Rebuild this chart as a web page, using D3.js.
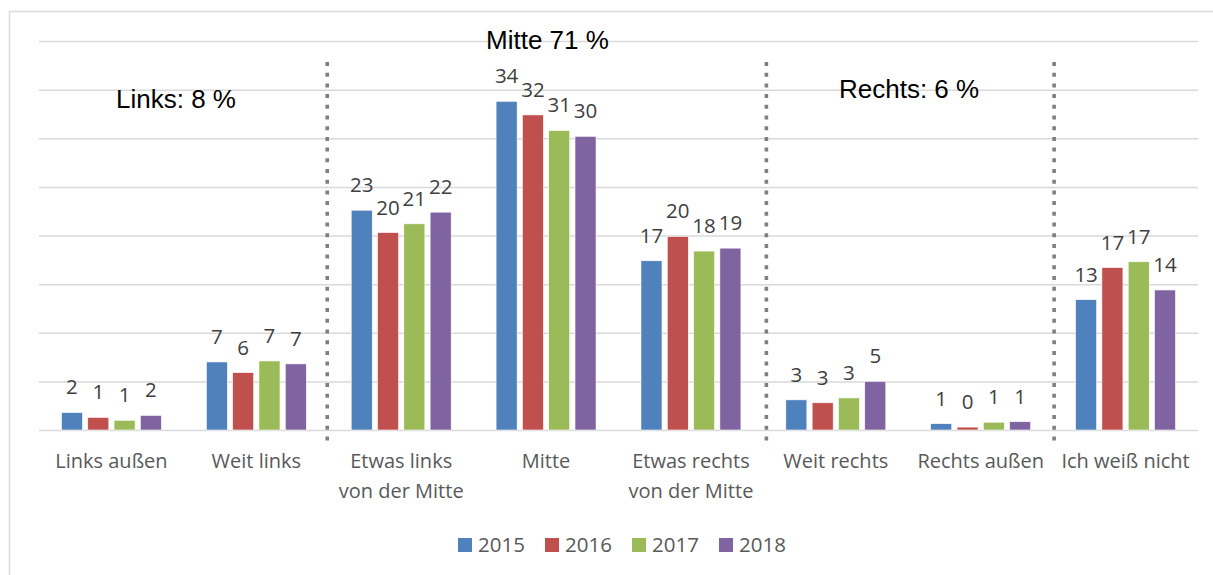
<!DOCTYPE html>
<html>
<head>
<meta charset="utf-8">
<script src="https://cdn.jsdelivr.net/npm/d3@7"></script>
<style>
  html, body { margin: 0; padding: 0; background: #fff; }
  svg { display: block; }
</style>
</head>
<body>
<svg id="chart" width="1213" height="575"></svg>
<script>
const categories = ["Links außen", "Weit links", "Etwas links von der Mitte", "Mitte",
  "Etwas rechts von der Mitte", "Weit rechts", "Rechts außen", "Ich weiß nicht"];
const years = ["2015", "2016", "2017", "2018"];
const v2015 = [1.8, 7.0, 22.6, 33.8, 17.4, 3.1, 0.65, 13.4];
const v2016 = [1.3, 5.9, 20.3, 32.4, 19.9, 2.8, 0.3, 16.7];
const v2017 = [1.0, 7.1, 21.2, 30.8, 18.4, 3.3, 0.8, 17.3];
const v2018 = [1.5, 6.8, 22.4, 30.2, 18.7, 5.0, 0.85, 14.4];
const yTicks = [0, 5, 10, 15, 20, 25, 30, 35, 40];
const colors = ["#4F81BD", "#C0504D", "#9BBB59", "#8064A2"];
const groupLabels = [
  { text: "Links: 8 %", x: 116, y: 108 },
  { text: "Mitte 71 %", x: 486, y: 49 },
  { text: "Rechts: 6 %", x: 839, y: 98 }
];
const dividerAfter = [1, 4, 6]; // divider after these category indexes

const series = [v2015, v2016, v2017, v2018];
const svg = d3.select("#chart");

// outer border
svg.append("rect").attr("x", 9.5).attr("y", 11.5).attr("width", 1220).attr("height", 600)
  .attr("fill", "#fff").attr("stroke", "#d9d9d9").attr("stroke-width", 1.5);

const plotL = 39, plotR = 1198, plotT = 41, plotB = 430;
const x0 = d3.scaleBand().domain(categories).range([plotL, plotR]).padding(0);
const groupW = x0.bandwidth() * 0.69;
const x1 = d3.scaleBand().domain(years).range([0, groupW]).paddingInner(0.2);
const y = d3.scaleLinear().domain([0, 40]).range([plotB, plotT]);

// gridlines
const yAxis = d3.axisLeft(y).tickValues(yTicks).tickSize(-(plotR - plotL)).tickFormat("");
const gAx = svg.append("g").attr("transform", `translate(${plotL},0)`).call(yAxis);
gAx.select(".domain").remove();
gAx.selectAll(".tick line").attr("stroke", "#d9d9d9").attr("stroke-width", 1.5);

// dividers
const defs = svg.append("defs");
const f = defs.append("filter").attr("id", "blur").attr("x", "-5").attr("y", "-1").attr("width", "11").attr("height", "3");
f.append("feGaussianBlur").attr("stdDeviation", 3);
dividerAfter.forEach(i => {
  const xx = x0(categories[i]) + x0.bandwidth() + (i === 4 ? 3 : (i === 1 ? -1.5 : 1));
  svg.append("line").attr("x1", xx).attr("x2", xx).attr("y1", 64).attr("y2", 442)
    .attr("stroke", "#999").attr("stroke-width", 7).attr("opacity", 0.45).attr("filter", "url(#blur)");
  svg.append("line").attr("x1", xx).attr("x2", xx).attr("y1", 62).attr("y2", 443)
    .attr("stroke", "#7f7f7f").attr("stroke-width", 3.6).attr("stroke-dasharray", "4,6.7");
});

// bars
const groups = svg.append("g").selectAll("g").data(categories).join("g")
  .attr("transform", d => `translate(${x0(d) + (x0.bandwidth() - groupW) / 2},0)`);

groups.each(function (cat, ci) {
  const g = d3.select(this);
  years.forEach((yr, si) => {
    const v = series[si][ci];
    g.append("rect")
      .attr("x", x1(yr)).attr("width", x1.bandwidth())
      .attr("y", y(v)).attr("height", y(0) - y(v))
      .attr("fill", colors[si]).attr("stroke", "#fff").attr("stroke-width", 0.6);
    g.append("text")
      .attr("x", x1(yr) + x1.bandwidth() / 2).attr("y", y(v) - 18)
      .attr("text-anchor", "middle")
      .attr("font-family", "'Open Sans', sans-serif").attr("font-size", 20.5)
      .attr("fill", "#404040")
      .text(Math.round(v));
  });
});

// category labels with wrapping
const catG = svg.append("g");
categories.forEach(cat => {
  const t = catG.append("text")
    .attr("x", x0(cat) + x0.bandwidth() / 2).attr("y", 468)
    .attr("text-anchor", "middle")
    .attr("font-family", "'Open Sans', sans-serif").attr("font-size", 20)
    .attr("fill", "#595959");
  const words = cat.split(" ");
  let line = [];
  let tspan = t.append("tspan").attr("x", x0(cat) + x0.bandwidth() / 2).attr("dy", 0);
  words.forEach(w => {
    line.push(w);
    tspan.text(line.join(" "));
    if (tspan.node().getComputedTextLength() > 138 && line.length > 1) {
      line.pop();
      tspan.text(line.join(" "));
      line = [w];
      tspan = t.append("tspan").attr("x", x0(cat) + x0.bandwidth() / 2).attr("dy", 29.5).text(w);
    }
  });
});

// group annotations
groupLabels.forEach(a => {
  svg.append("text").attr("x", a.x).attr("y", a.y)
    .attr("font-family", "'Liberation Sans', Arial, sans-serif").attr("font-size", 26)
    .attr("fill", "#000").text(a.text);
});

// legend
const legend = svg.append("g");
years.forEach((yr, i) => {
  const lx = 458 + i * 87;
  legend.append("rect").attr("x", lx).attr("y", 538).attr("width", 14).attr("height", 14).attr("fill", colors[i]);
  legend.append("text").attr("x", lx + 20).attr("y", 552)
    .attr("font-family", "'Open Sans', sans-serif").attr("font-size", 20.5)
    .attr("fill", "#595959").text(yr);
});
</script>
</body>
</html>
